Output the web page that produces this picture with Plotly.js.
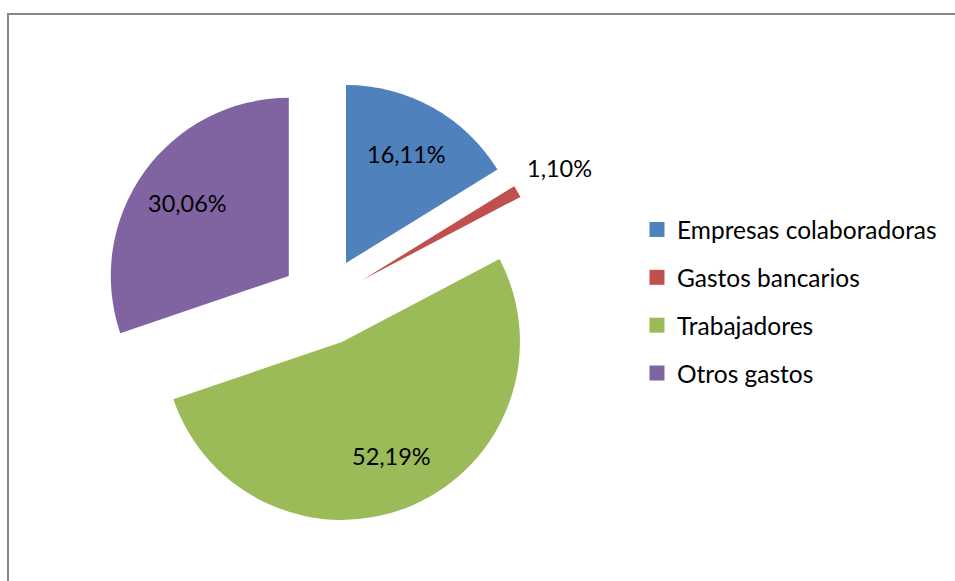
<!DOCTYPE html>
<html>
<head>
<meta charset="utf-8">
<script src="https://cdn.plot.ly/plotly-3.0.1.min.js"></script>
<style>
  html, body { margin: 0; padding: 0; overflow: hidden; background: #fff; }
  #chart { width: 955px; height: 581px; }
</style>
</head>
<body>
<div id="chart"></div>
<script>
// Data
var categories = ["Empresas colaboradoras", "Gastos bancarios", "Trabajadores", "Otros gastos"];
var values = [16.11, 1.10, 52.19, 30.06];
var colors = ["#4F81BD", "#C0504D", "#9BBB59", "#8064A2"];
var labelInside = [true, false, true, true];

var labelsText = values.map(function (v) { return v.toFixed(2).replace(".", ",") + "%"; });

var FONT = "Lato, 'Open Sans', sans-serif";
var W = 955, H = 581;
var PULL = 0.247;
var domX = [0.1074, 0.5723], domY = [0.0990, 0.8632];

var pie = {
  type: "pie",
  labels: categories,
  values: values,
  textinfo: "none",
  sort: false,
  direction: "clockwise",
  rotation: 0,
  pull: PULL,
  marker: { colors: colors, line: { width: 0 } },
  domain: { x: domX, y: domY },
  showlegend: false,
  hoverinfo: "label+percent"
};

// data labels placed along each slice's bisector (same geometry Plotly uses for the pie)
var total = values.reduce(function (a, b) { return a + b; }, 0);
var cxPx = W * (domX[0] + domX[1]) / 2;
var cyPx = H * (2 - domY[0] - domY[1]) / 2;
var rPx = Math.min(W * (domX[1] - domX[0]), H * (domY[1] - domY[0])) / (2 + 2 * PULL);
var cum = 0;
var annotations = values.map(function (v, i) {
  var mid = (cum + v / 2) / total; cum += v;
  var th = mid * 2 * Math.PI;
  var dx = Math.sin(th), dy = -Math.cos(th);
  var f = PULL + (labelInside[i] ? 0.7 : 1.27);
  var px = cxPx + f * rPx * dx, py = cyPx + f * rPx * dy;
  return {
    x: px / W, y: 1 - py / H, xref: "paper", yref: "paper",
    text: labelsText[i], showarrow: false, xanchor: "center", yanchor: "middle",
    font: { family: FONT, size: 23.5, color: "#000" }
  };
});

var legendTraces = categories.map(function (c, i) {
  return {
    type: "scatter",
    mode: "markers",
    x: [null], y: [null],
    name: c,
    legendgroup: "g" + i,
    marker: { symbol: "square", size: 15, color: colors[i], line: { width: 0 } },
    showlegend: true,
    hoverinfo: "skip"
  };
});

var layout = {
  width: W,
  height: H,
  margin: { l: 0, r: 0, t: 0, b: 0 },
  paper_bgcolor: "#fff",
  plot_bgcolor: "#fff",
  font: { family: FONT, color: "#000" },
  xaxis: { visible: false },
  yaxis: { visible: false },
  showlegend: true,
  legend: {
    x: 0.667, xanchor: "left",
    y: 0.481, yanchor: "middle",
    traceorder: "grouped",
    tracegroupgap: 13,
    font: { family: FONT, size: 24.5, color: "#000" },
    bgcolor: "rgba(0,0,0,0)",
    borderwidth: 0
  },
  annotations: annotations,
  shapes: [{
    type: "rect", xref: "paper", yref: "paper",
    x0: 8 / W, x1: 1.2, y0: -0.2, y1: 1 - 14 / H,
    line: { color: "#878787", width: 2 }, fillcolor: "rgba(0,0,0,0)"
  }]
};

Plotly.newPlot("chart", [pie].concat(legendTraces), layout, { displayModeBar: false, staticPlot: true });
</script>
</body>
</html>
